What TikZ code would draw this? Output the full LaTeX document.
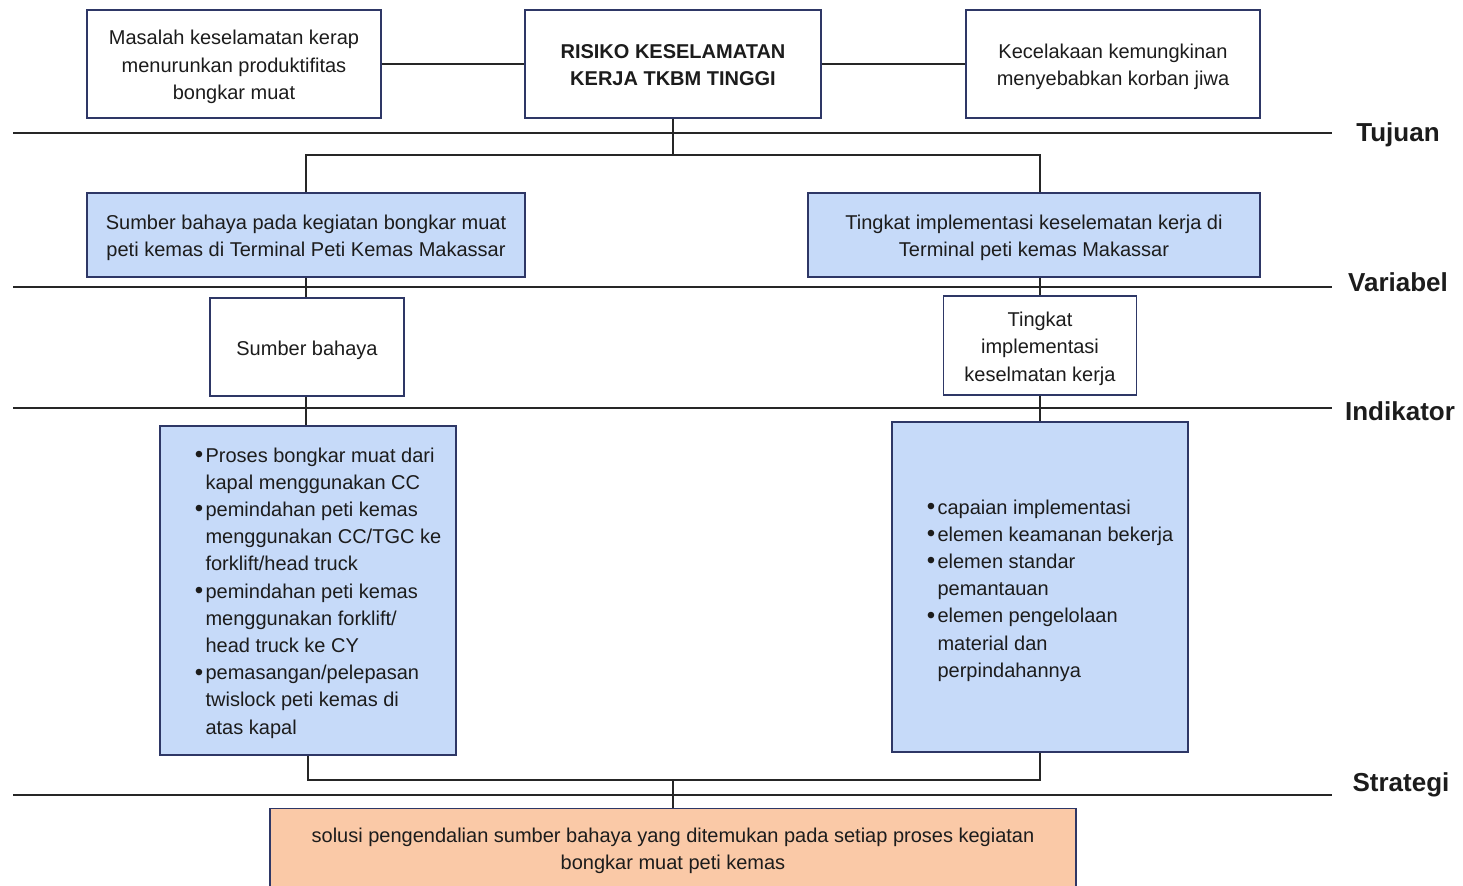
\documentclass[tikz,border=0pt]{standalone}
\usepackage{fontspec}
\setmainfont{Liberation Sans}
\usetikzlibrary{calc}
\definecolor{bordercol}{HTML}{2E3766}
\definecolor{linecol}{HTML}{262626}
\definecolor{bluefill}{HTML}{C6DAF9}
\definecolor{peachfill}{HTML}{FAC9A7}
\definecolor{txt}{HTML}{1C1C1C}
\tikzset{
  box/.style={draw=bordercol, line width=0.75pt, fill=white, inner sep=2pt, align=center,
    font=\fontsize{10}{13.7}\selectfont, text=txt},
  bluebox/.style={box, fill=bluefill},
  peachbox/.style={box, fill=peachfill},
  conn/.style={draw=linecol, line width=0.65pt},
  rule/.style={draw=linecol, line width=0.65pt},
  level/.style={font=\fontsize{13}{15}\selectfont\bfseries, text=txt, inner sep=0pt},
  listtext/.style={align=left, inner sep=0pt, font=\fontsize{10}{13.6}\selectfont, text=txt}
}
\newcommand{\bul}{\makebox[5.4pt][l]{\raisebox{-0.2pt}{\scalebox{1.2}{\textbullet}}}}
\newcommand{\ind}{\hspace*{5.4pt}}
\newcommand{\tb}[1]{\raisebox{-1.4pt}[\height][\depth]{\begin{tabular}{@{}c@{}}#1\end{tabular}}}
\begin{document}
\begin{tikzpicture}[x=0.5pt, y=-0.5pt]
\useasboundingbox (0,0) rectangle (1463,886);
\fill[white] (0,0) rectangle (1463,886);

% horizontal level rules
\coordinate (r1L) at (13,133);  \coordinate (r1R) at (1332,133);
\coordinate (r2L) at (13,287);  \coordinate (r2R) at (1332,287);
\coordinate (r3L) at (13,408);  \coordinate (r3R) at (1332,408);
\coordinate (r4L) at (13,795);  \coordinate (r4R) at (1332,795);
\draw[rule] (r1L) -- (r1R);
\draw[rule] (r2L) -- (r2R);
\draw[rule] (r3L) -- (r3R);
\draw[rule] (r4L) -- (r4R);
\node[level] (lTujuan) at (1398,135) {Tujuan};
\node[level] (lVariabel) at (1398,282) {Variabel};
\node[level] (lIndikator) at (1400,411) {Indikator};
\node[level] (lStrategi) at (1401,785) {Strategi};

% top row
\node[box, minimum width=147pt, minimum height=54pt] (A) at (234,64)
  {\tb{Masalah keselamatan kerap\\menurunkan produktifitas\\bongkar muat}};
\node[box, minimum width=148pt, minimum height=54pt, font=\fontsize{10}{13.7}\selectfont\bfseries] (B) at (673,64)
  {\tb{RISIKO KESELAMATAN\\KERJA TKBM TINGGI}};
\node[box, minimum width=147pt, minimum height=54pt] (C) at (1113,64)
  {\tb{Kecelakaan kemungkinan\\menyebabkan korban jiwa}};

% variable row
\node[bluebox, minimum width=219pt, minimum height=42pt] (D) at (306,235)
  {\tb{Sumber bahaya pada kegiatan bongkar muat\\peti kemas di Terminal Peti Kemas Makassar}};
\node[bluebox, minimum width=226pt, minimum height=42pt] (E) at (1034,235)
  {\tb{Tingkat implementasi keselematan kerja di\\Terminal peti kemas Makassar}};

% indicator row
\node[box, minimum width=97pt, minimum height=49pt] (F) at (307,347) {\tb{Sumber bahaya}};
\node[box, minimum width=96.5pt, minimum height=49.5pt] (G) at (1040,345.5)
  {\tb{Tingkat\\implementasi\\keselmatan kerja}};

% lists
\node[bluebox, minimum width=148pt, minimum height=164.5pt] (H) at (308,590.5) {};
\node[listtext] (Ht) at (318,593) {%
\bul Proses bongkar muat dari\\
\ind kapal menggunakan CC\\
\bul pemindahan peti kemas\\
\ind menggunakan CC/TGC ke\\
\ind forklift/head truck\\
\bul pemindahan peti kemas\\
\ind menggunakan forklift/\\
\ind head truck ke CY\\
\bul pemasangan/pelepasan\\
\ind twislock peti kemas di\\
\ind atas kapal};
\node[bluebox, minimum width=148pt, minimum height=165pt] (I) at (1040,587) {};
\node[listtext] (It) at (1050,590.5) {%
\bul capaian implementasi\\
\bul elemen keamanan bekerja\\
\bul elemen standar\\
\ind pemantauan\\
\bul elemen pengelolaan\\
\ind material dan\\
\ind perpindahannya};

% strategy
\node[peachbox, minimum width=403pt, minimum height=41pt, anchor=north] (J) at (673,808) {};
\node[listtext, align=center, font=\fontsize{10}{13.7}\selectfont] (Jt) at (673,851)
  {solusi pengendalian sumber bahaya yang ditemukan pada setiap proses kegiatan\\bongkar muat peti kemas};

% connectors
\draw[conn] (A.east) -- (B.west);
\draw[conn] (B.east) -- (C.west);
\coordinate (t1) at (673,155);
\draw[conn] (B.south) -- (t1);
\draw[conn] (D.north) |- (t1);
\draw[conn] (t1) -| (G.north |- E.north);
\draw[conn] (D.south) -- (D.south |- F.north);
\draw[conn] (G.north |- E.south) -- (G.north);
\draw[conn] (D.south |- F.south) -- (D.south |- H.north);
\draw[conn] (G.south) -- (I.north);
\coordinate (s1) at (673,780);
\draw[conn] (H.south) |- (s1);
\draw[conn] (s1) -| (I.south);
\draw[conn] (s1) -- (J.north);
\end{tikzpicture}
\end{document}
